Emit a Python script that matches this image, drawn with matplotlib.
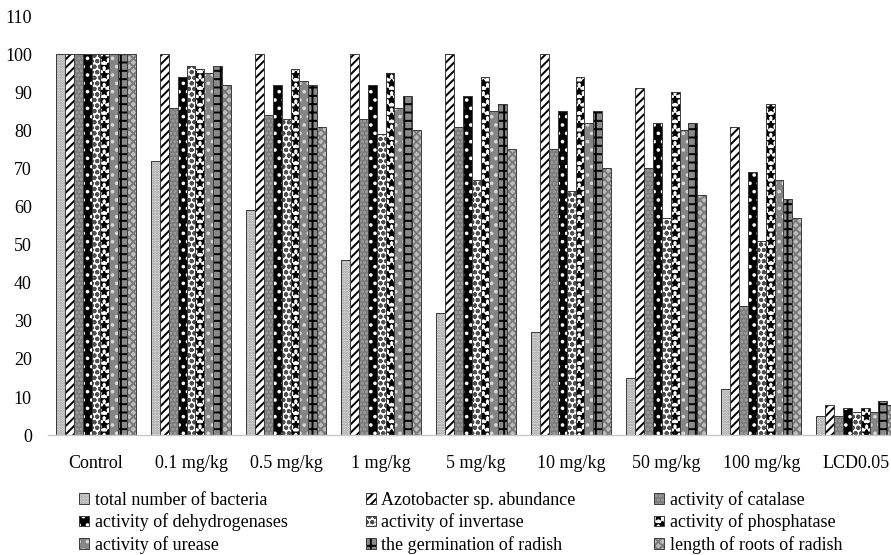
import matplotlib
matplotlib.use("Agg")
import matplotlib.pyplot as plt
import numpy as np
from matplotlib.patches import Patch
from matplotlib.legend_handler import HandlerTuple

plt.rcParams['font.family'] = ['Liberation Serif', 'DejaVu Serif']

categories = ["Control", "0.1 mg/kg", "0.5 mg/kg", "1 mg/kg", "5 mg/kg",
              "10 mg/kg", "50 mg/kg", "100 mg/kg", "LCD0.05"]

series_names = ["total number of bacteria", "Azotobacter sp. abundance", "activity of catalase",
                "activity of dehydrogenases", "activity of invertase", "activity of phosphatase",
                "activity of urease", "the germination of radish", "length of roots of radish"]

bacteria      = [100, 72, 59, 46, 32, 27, 15, 12, 5]
azotobacter   = [100, 100, 100, 100, 100, 100, 91, 81, 8]
catalase      = [100, 86, 84, 83, 81, 75, 70, 34, 5]
dehydrogenase = [100, 94, 92, 92, 89, 85, 82, 69, 7]
invertase     = [100, 97, 83, 79, 67, 64, 57, 51, 6]
phosphatase   = [100, 96, 96, 95, 94, 94, 90, 87, 7]
urease        = [100, 95, 93, 86, 85, 82, 80, 67, 6]
germination   = [100, 97, 92, 89, 87, 85, 82, 62, 9]
roots         = [100, 92, 81, 80, 75, 70, 63, 57, 8]

series = [bacteria, azotobacter, catalase, dehydrogenase, invertase,
          phosphatase, urease, germination, roots]

# (facecolor, hatch, hatchcolor)
styles = [
    ("#e2e2e2", "......", "#9a9a9a"),
    ("white", "////", "black"),
    ("#7c7c7c", "....", "#a0a0a0"),
    ("black", "..", "white"),
    ("white", "ooo", "#505050"),
    ("white", "**", "black"),
    ("#858585", "..", "#d8d8d8"),
    ("#8a8a8a", "++", "black"),
    ("#bdbdbd", "xxxx", "#7a7a7a"),
]

fig = plt.figure(figsize=(8.91, 5.55), dpi=100)
ax = fig.add_axes([0.0544, 0.216, 0.960, 0.755])

x = np.arange(len(categories))
n = len(series)
group_w = 0.84
w = group_w / n
plt.rcParams['hatch.linewidth'] = 1.4

handles = []
for i, (vals, (fc, h, hc)) in enumerate(zip(series, styles)):
    pos = x - group_w / 2 + w * (i + 0.5)
    ax.bar(pos, vals, width=w, facecolor=fc, hatch=h, edgecolor=hc, linewidth=0)
    ax.bar(pos, vals, width=w, fill=False, edgecolor="#3a3a3a", linewidth=0.7)
    hp = Patch(facecolor=fc, hatch=h, edgecolor=hc, linewidth=0)
    op = Patch(fill=False, edgecolor="#3a3a3a", linewidth=0.7)
    handles.append((hp, op))

ax.set_xlim(-0.5, len(categories) - 0.5)
ax.set_ylim(0, 110)
ax.set_yticks(np.arange(0, 111, 10))
ax.set_xticks(x)
ax.set_xticklabels(categories)
ax.tick_params(axis='both', length=0, labelsize=13)
ax.tick_params(axis='y', pad=12)
ax.tick_params(axis='x', pad=14)
for s in ['top', 'right', 'left']:
    ax.spines[s].set_visible(False)
ax.spines['bottom'].set_color('#c8c8c8')
ax.spines['bottom'].set_linewidth(1.0)

order = [0, 3, 6, 1, 4, 7, 2, 5, 8]
leg = fig.legend([handles[k] for k in order], [series_names[k] for k in order],
                 ncol=3, loc='upper left', bbox_to_anchor=(0.089, 0.115),
                 frameon=False, fontsize=13, handlelength=0.55, handleheight=0.55,
                 handletextpad=0.3, columnspacing=4.35, labelspacing=0.25,
                 borderaxespad=0, borderpad=0,
                 handler_map={tuple: HandlerTuple(ndivide=1)})

fig.savefig("out.png", dpi=100)
